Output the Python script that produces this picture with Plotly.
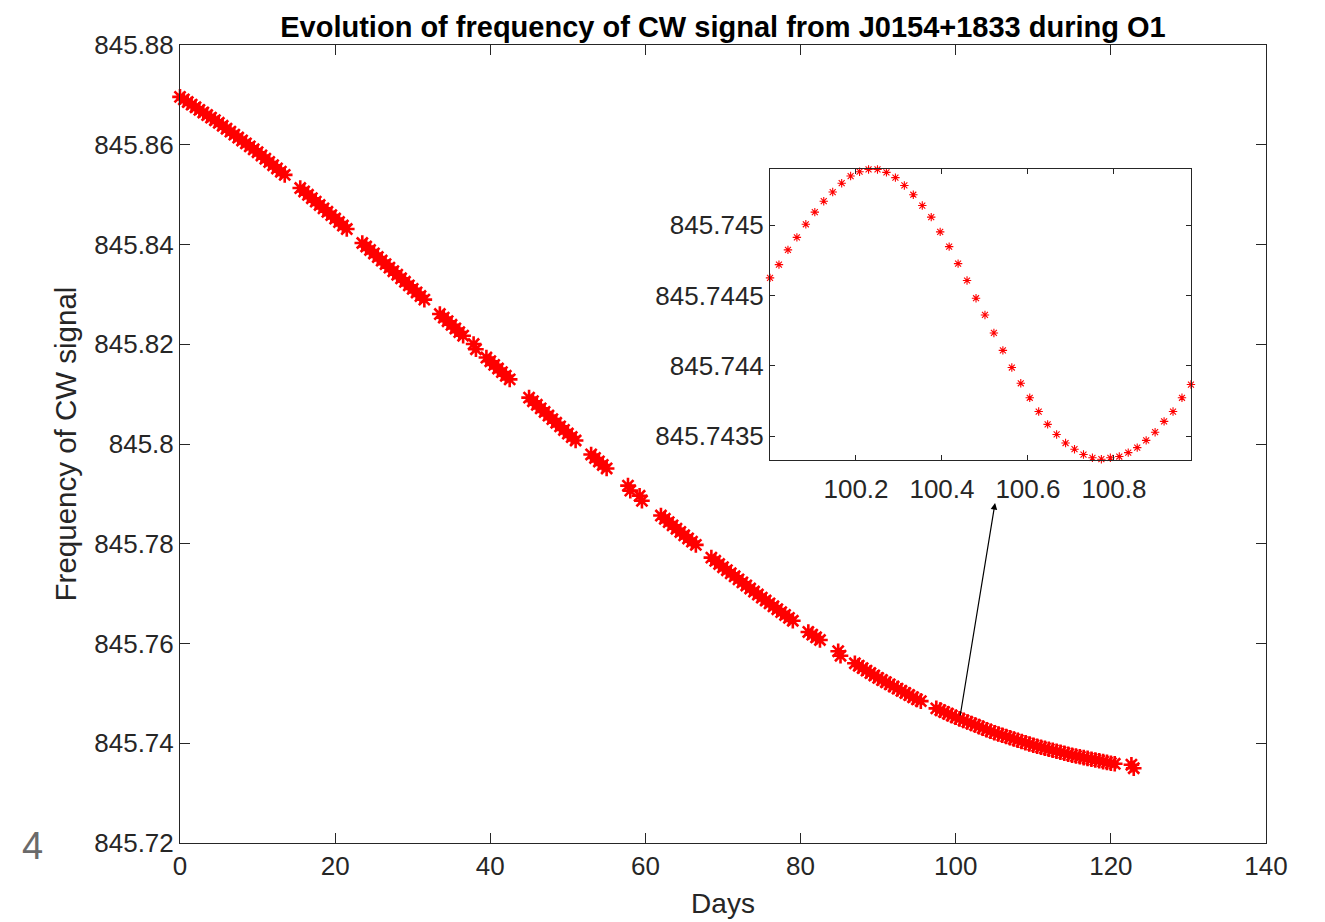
import plotly.graph_objects as go

# ---------------- data ----------------
days_main = [
    0.0, 0.5, 1.0, 1.5, 2.0, 2.5, 3.0, 3.5, 4.0, 4.5, 5.0, 5.5, 6.0, 6.5, 7.0, 7.5, 8.0, 8.5, 9.0, 9.5,
    10.0, 10.5, 11.0, 11.5, 12.0, 12.5, 13.0, 13.5,
    15.5, 16.0, 16.5, 17.0, 17.5, 18.0, 18.5, 19.0, 19.5, 20.0, 20.5, 21.0, 21.5,
    23.5, 24.0, 24.5, 25.0, 25.5, 26.0, 26.5, 27.0, 27.5, 28.0, 28.5, 29.0, 29.5, 30.0, 30.5, 31.0, 31.5,
    33.5, 34.0, 34.5, 35.0, 35.5, 36.0, 36.5,
    37.85, 38.15,
    39.5, 40.0, 40.5, 41.0, 41.5, 42.0, 42.5,
    45.0, 45.5, 46.0, 46.5, 47.0, 47.5, 48.0, 48.5, 49.0, 49.5, 50.0, 50.5, 51.0,
    53.0, 53.5, 54.0, 54.5, 55.0,
    57.75, 58.05,
    59.25, 59.55,
    62.0, 62.5, 63.0, 63.5, 64.0, 64.5, 65.0, 65.5, 66.0, 66.5,
    68.5, 69.0, 69.5, 70.0, 70.5, 71.0, 71.5, 72.0, 72.5, 73.0, 73.5, 74.0, 74.5, 75.0, 75.5, 76.0,
    76.5, 77.0, 77.5, 78.0, 78.5, 79.0,
    81.0, 81.5, 82.0, 82.5,
    84.85, 85.15,
    87.0, 87.5, 88.0, 88.5, 89.0, 89.5, 90.0, 90.5, 91.0, 91.5, 92.0, 92.5, 93.0, 93.5, 94.0, 94.5,
    95.0, 95.5,
    97.5, 98.0, 98.5, 99.0, 99.5, 100.0, 100.5, 101.0, 101.5, 102.0, 102.5, 103.0, 103.5, 104.0,
    104.5, 105.0, 105.5, 106.0, 106.5, 107.0, 107.5, 108.0, 108.5, 109.0, 109.5, 110.0, 110.5,
    111.0, 111.5, 112.0, 112.5, 113.0, 113.5, 114.0, 114.5, 115.0, 115.5, 116.0, 116.5, 117.0,
    117.5, 118.0, 118.5, 119.0, 119.5, 120.0, 120.5,
    122.65, 122.95,
]

freq_main = [
    845.86960, 845.86908, 845.86856, 845.86804, 845.86752, 845.86700, 845.86648, 845.86596, 845.86544,
    845.86492, 845.86440, 845.86381, 845.86322, 845.86263, 845.86204, 845.86145, 845.86086, 845.86027,
    845.85968, 845.85909, 845.85850, 845.85785, 845.85720, 845.85655, 845.85590, 845.85525, 845.85460,
    845.85395,
    845.85132, 845.85064, 845.84996, 845.84928, 845.84860, 845.84792, 845.84724, 845.84656, 845.84588,
    845.84520, 845.84450, 845.84380, 845.84310,
    845.84030, 845.83960, 845.83890, 845.83820, 845.83749, 845.83678, 845.83607, 845.83536, 845.83465,
    845.83394, 845.83323, 845.83252, 845.83181, 845.83110, 845.83038, 845.82966, 845.82894,
    845.82606, 845.82534, 845.82462, 845.82390, 845.82317, 845.82244, 845.82171,
    845.82004, 845.81900,
    845.81733, 845.81660, 845.81587, 845.81514, 845.81441, 845.81368, 845.81295,
    845.80930, 845.80858, 845.80786, 845.80714, 845.80642, 845.80570, 845.80498, 845.80426, 845.80354,
    845.80282, 845.80210, 845.80140, 845.80070,
    845.79790, 845.79720, 845.79650, 845.79580, 845.79510,
    845.79166, 845.79065,
    845.78962, 845.78861,
    845.78566, 845.78500, 845.78434, 845.78368, 845.78302, 845.78236, 845.78170, 845.78106, 845.78042,
    845.77978,
    845.77722, 845.77658, 845.77594, 845.77530, 845.77469, 845.77408, 845.77347, 845.77286, 845.77225,
    845.77164, 845.77103, 845.77042, 845.76981, 845.76920, 845.76862, 845.76804, 845.76746, 845.76688,
    845.76630, 845.76572, 845.76514, 845.76456,
    845.76232, 845.76178, 845.76124, 845.76070,
    845.75846, 845.75755,
    845.75604, 845.75555, 845.75506, 845.75457, 845.75408, 845.75359, 845.75310, 845.75267, 845.75224,
    845.75181, 845.75138, 845.75095, 845.75052, 845.75009, 845.74966, 845.74923, 845.74880, 845.74844,
    845.74700, 845.74664, 845.74628, 845.74592, 845.74556, 845.74520, 845.74489, 845.74458, 845.74427,
    845.74396, 845.74365, 845.74334, 845.74303, 845.74272, 845.74241, 845.74210, 845.74185, 845.74160,
    845.74135, 845.74110, 845.74085, 845.74060, 845.74035, 845.74010, 845.73985, 845.73960, 845.73940,
    845.73920, 845.73900, 845.73880, 845.73860, 845.73840, 845.73820, 845.73800, 845.73780, 845.73760,
    845.73744, 845.73728, 845.73712, 845.73696, 845.73680, 845.73664, 845.73648, 845.73632, 845.73616,
    845.73600, 845.73588,
    845.73570, 845.73500,
]

days_inset = [
    100.0000, 100.0208, 100.0417, 100.0625, 100.0833, 100.1042, 100.1250, 100.1458, 100.1667, 100.1875,
    100.2083, 100.2292, 100.2500, 100.2708, 100.2917, 100.3125, 100.3333, 100.3542, 100.3750, 100.3958,
    100.4167, 100.4375, 100.4583, 100.4792, 100.5000, 100.5208, 100.5417, 100.5625, 100.5833, 100.6042,
    100.6250, 100.6458, 100.6667, 100.6875, 100.7083, 100.7292, 100.7500, 100.7708, 100.7917, 100.8125,
    100.8333, 100.8542, 100.8750, 100.8958, 100.9167, 100.9375, 100.9583, 100.9792,
]

freq_inset = [
    845.744626, 845.744720, 845.744825, 845.744914, 845.745007, 845.745093, 845.745171, 845.745236,
    845.745299, 845.745350, 845.745381, 845.745397, 845.745397, 845.745376, 845.745339, 845.745283,
    845.745217, 845.745140, 845.745058, 845.744953, 845.744848, 845.744727, 845.744607, 845.744481,
    845.744362, 845.744234, 845.744110, 845.743988, 845.743876, 845.743773, 845.743675, 845.743584,
    845.743512, 845.743451, 845.743407, 845.743369, 845.743346, 845.743336, 845.743346, 845.743355,
    845.743383, 845.743418, 845.743470, 845.743528, 845.743605, 845.743675, 845.743773, 845.743867,
]

main_xticks = [0, 20, 40, 60, 80, 100, 120, 140]
main_yticks = [845.72, 845.74, 845.76, 845.78, 845.80, 845.82, 845.84, 845.86, 845.88]
main_ytext = ["845.72", "845.74", "845.76", "845.78", "845.8", "845.82", "845.84", "845.86", "845.88"]
inset_xticks = [100.2, 100.4, 100.6, 100.8]
inset_xtext = ["100.2", "100.4", "100.6", "100.8"]
inset_yticks = [845.7435, 845.744, 845.7445, 845.745]
inset_ytext = ["845.7435", "845.744", "845.7445", "845.745"]

title_text = "Evolution of frequency of CW signal from J0154+1833 during O1"
xlabel = "Days"
ylabel = "Frequency of CW signal"

# ---------------- figure ----------------
FONT = "Liberation Sans, Arial, Helvetica, sans-serif"
AX = "#262626"

fig = go.Figure()
fig.add_trace(go.Scatter(
    x=days_main, y=freq_main, mode="markers", xaxis="x", yaxis="y",
    marker=dict(symbol="asterisk-open", size=13, color="#ff0000",
                line=dict(color="#ff0000", width=2.6)),
    cliponaxis=False, hoverinfo="skip", showlegend=False,
))
fig.add_trace(go.Scatter(
    x=days_inset, y=freq_inset, mode="markers", xaxis="x2", yaxis="y2",
    marker=dict(symbol="asterisk-open", size=7, color="#ff0000",
                line=dict(color="#ff0000", width=1.1)),
    cliponaxis=False, hoverinfo="skip", showlegend=False,
))

common = dict(showgrid=False, zeroline=False, showline=True, linecolor=AX, linewidth=1,
              mirror="ticks", ticks="inside", tickcolor=AX, tickwidth=1, automargin=False,
              tickfont=dict(family=FONT, size=26, color=AX))

fig.update_layout(
    width=1325, height=922,
    margin=dict(l=180, r=59, t=45, b=79),
    paper_bgcolor="white", plot_bgcolor="white",
    font=dict(family=FONT, color=AX),
    title=dict(text="<b>" + title_text + "</b>", x=0.5, xref="paper", xanchor="center",
               y=1 - 27 / 922, yref="container", yanchor="middle",
               font=dict(family=FONT, size=29, color="black")),
    xaxis=dict(domain=[0, 1], range=[0, 140], tickvals=main_xticks, ticklen=10,
               anchor="y", title=dict(text=xlabel, font=dict(family=FONT, size=28, color=AX), standoff=13),
               **common),
    yaxis=dict(domain=[0, 1], range=[845.72, 845.88], tickvals=main_yticks, ticktext=main_ytext,
               ticklen=10, anchor="x",
               title=dict(text=ylabel, font=dict(family=FONT, size=29.5, color=AX), standoff=8),
               **common),
    xaxis2=dict(domain=[0.5433, 0.9309], range=[100.0, 100.9792], tickvals=inset_xticks,
                ticktext=inset_xtext, ticklen=5, anchor="y2", ticklabelstandoff=6, **common),
    yaxis2=dict(domain=[0.4799, 0.8446], range=[845.74333, 845.74540], tickvals=inset_yticks,
                ticktext=inset_ytext, ticklen=5, anchor="x2", **common),
    hovermode=False,
)

fig.add_annotation(
    x=105.07, y=845.78817, xref="x", yref="y",
    ax=100.55, ay=845.74526, axref="x", ayref="y",
    showarrow=True, arrowhead=2, arrowsize=1.1, arrowwidth=1.2, arrowcolor="black",
    standoff=0, startstandoff=0, text="",
)
fig.add_annotation(
    x=-0.1354, y=-0.004, xref="paper", yref="paper", text="4", showarrow=False,
    xanchor="center", yanchor="middle", font=dict(family=FONT, size=38, color="#6a6a6a"),
)

fig.write_html("out.html")
